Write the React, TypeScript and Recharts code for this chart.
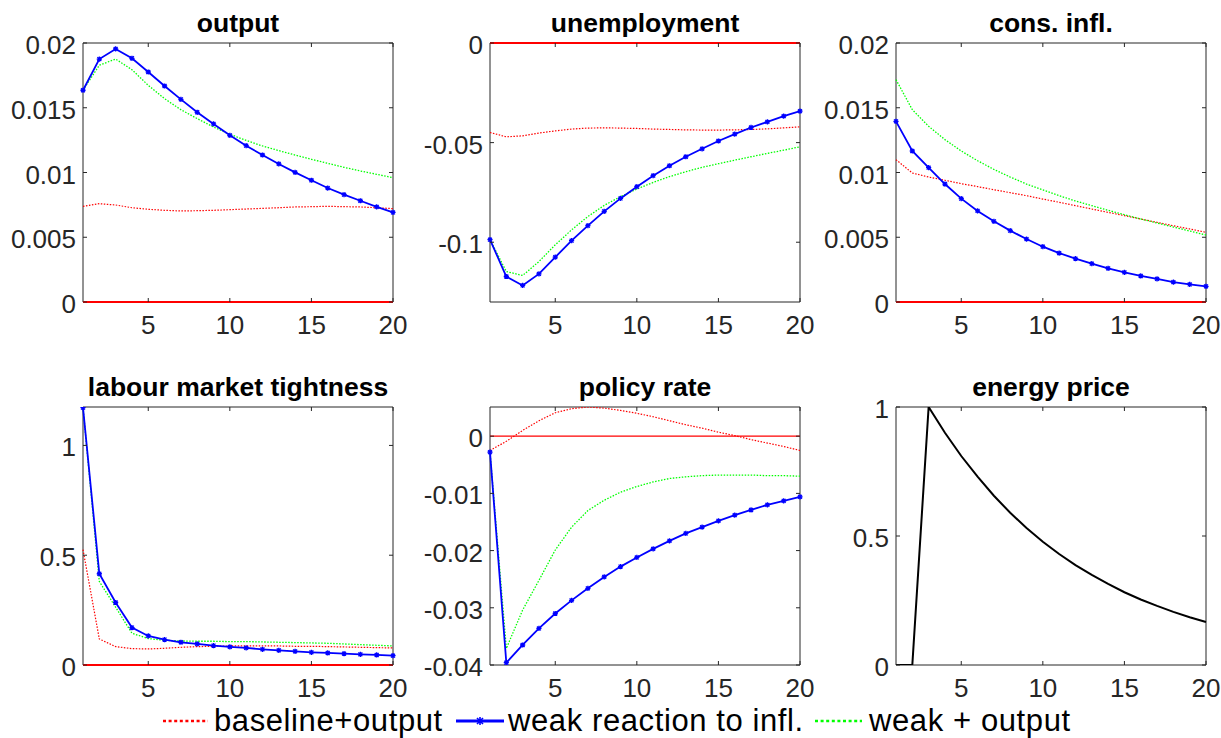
import React from "react";
import { LineChart, Line, XAxis, YAxis, ReferenceLine, ReferenceArea } from "recharts";

const periods = [1, 2, 3, 4, 5, 6, 7, 8, 9, 10, 11, 12, 13, 14, 15, 16, 17, 18, 19, 20];
const xTicks = [5, 10, 15, 20];

// output
const outputBaseline = [0.00739, 0.00759, 0.00749, 0.00728, 0.00716, 0.00708, 0.00703, 0.00705, 0.00708, 0.00713, 0.00718, 0.00723, 0.00728, 0.00734, 0.00736, 0.00739, 0.00736, 0.00734, 0.00728, 0.00721];
const outputWeak = [0.01635, 0.01876, 0.01954, 0.01882, 0.01776, 0.01668, 0.01565, 0.01465, 0.01375, 0.01287, 0.01207, 0.01135, 0.01066, 0.01001, 0.0094, 0.0088, 0.00829, 0.00782, 0.00734, 0.00692];
const outputWeakOut = [0.01635, 0.01828, 0.01876, 0.01794, 0.01673, 0.0157, 0.01485, 0.01416, 0.01351, 0.01295, 0.01248, 0.01205, 0.01169, 0.01135, 0.01102, 0.01071, 0.0104, 0.01012, 0.00986, 0.0096];

// unemployment
const unempBaseline = [-0.0449, -0.0471, -0.0466, -0.0452, -0.0441, -0.0432, -0.0427, -0.0426, -0.0427, -0.0429, -0.0432, -0.0434, -0.0436, -0.0437, -0.0437, -0.0436, -0.0434, -0.0431, -0.0426, -0.0421];
const unempWeak = [-0.0987, -0.1172, -0.1217, -0.1159, -0.1075, -0.0992, -0.0917, -0.0845, -0.078, -0.0721, -0.0666, -0.0616, -0.0571, -0.0531, -0.0492, -0.0457, -0.0424, -0.0396, -0.0367, -0.0342];
const unempWeakOut = [-0.0987, -0.1147, -0.1167, -0.1097, -0.1013, -0.0938, -0.0871, -0.0815, -0.0771, -0.0733, -0.07, -0.0671, -0.0646, -0.0624, -0.0606, -0.0588, -0.0571, -0.0554, -0.0538, -0.0521];

// cons. infl.
const inflBaseline = [0.01099, 0.00996, 0.00965, 0.0094, 0.00914, 0.00891, 0.00867, 0.00844, 0.00821, 0.00795, 0.0077, 0.00744, 0.00718, 0.00692, 0.00667, 0.00641, 0.00615, 0.00589, 0.00564, 0.00538];
const inflWeak = [0.01395, 0.01166, 0.01037, 0.00911, 0.00798, 0.00703, 0.00623, 0.00551, 0.00486, 0.00427, 0.00378, 0.00335, 0.00296, 0.0026, 0.00229, 0.00201, 0.00178, 0.00154, 0.00136, 0.00121];
const inflWeakOut = [0.01717, 0.01485, 0.01357, 0.01254, 0.01166, 0.01091, 0.01024, 0.00965, 0.00911, 0.00865, 0.00821, 0.0078, 0.00744, 0.00708, 0.00674, 0.00641, 0.0061, 0.00579, 0.00548, 0.00517];

// labour market tightness
const tightBaseline = [0.525, 0.1187, 0.0837, 0.0746, 0.0731, 0.0761, 0.0807, 0.0837, 0.0852, 0.0868, 0.0868, 0.0868, 0.0868, 0.0852, 0.0852, 0.0837, 0.0822, 0.0807, 0.0791, 0.0776];
const tightWeak = [1.172, 0.4155, 0.2846, 0.1705, 0.1324, 0.1157, 0.1035, 0.0959, 0.0883, 0.0822, 0.0776, 0.0715, 0.067, 0.0624, 0.0578, 0.0548, 0.0518, 0.0487, 0.0457, 0.0426];
const tightWeakOut = [1.172, 0.3805, 0.2633, 0.1446, 0.1202, 0.1126, 0.1096, 0.1081, 0.1081, 0.1065, 0.1065, 0.105, 0.1035, 0.102, 0.1005, 0.0989, 0.0959, 0.0928, 0.0898, 0.0868];

// policy rate
const rateBaseline = [-0.0025, -0.0009, 0.001, 0.0027, 0.0041, 0.0048, 0.0051, 0.0049, 0.0045, 0.004, 0.0034, 0.0027, 0.002, 0.0014, 0.0007, 0.0001, -0.0006, -0.0012, -0.0018, -0.0025];
const rateWeak = [-0.0028, -0.0396, -0.0365, -0.0336, -0.031, -0.0287, -0.0266, -0.0246, -0.0228, -0.0212, -0.0197, -0.0183, -0.017, -0.0159, -0.0148, -0.0138, -0.0129, -0.012, -0.0113, -0.0106];
const rateWeakOut = [-0.0028, -0.0371, -0.0304, -0.0252, -0.0199, -0.0159, -0.013, -0.0112, -0.0098, -0.0088, -0.008, -0.0074, -0.0071, -0.0069, -0.0068, -0.0068, -0.0068, -0.0069, -0.0069, -0.007];

// energy price
const energyPrice = [0, 0, 1, 0.9, 0.81, 0.73, 0.656, 0.59, 0.531, 0.478, 0.43, 0.387, 0.349, 0.314, 0.282, 0.254, 0.229, 0.206, 0.185, 0.167];

const FONT = '"Liberation Sans", Arial, Helvetica, sans-serif';
const AXIS = "#262626";
const RED = "#ff0000";
const BLUE = "#0000ff";
const GREEN = "#00ff00";

const PW = 310;
const LEFT_W = 80;
const RIGHT_PAD = 30;
const TOP_PAD = 26;

interface PanelSpec {
  title: string;
  left: number;
  top: number;
  height: number;
  domain: [number, number];
  ticks: number[];
  base?: number[];
  weak?: number[];
  weakOut?: number[];
  energy?: number[];
  zero: boolean;
  zeroWidth?: number;
}

const panels: PanelSpec[] = [
  { title: "output", left: 83, top: 43, height: 259, domain: [0, 0.02], ticks: [0, 0.005, 0.01, 0.015, 0.02], base: outputBaseline, weak: outputWeak, weakOut: outputWeakOut, zero: true, zeroWidth: 2 },
  { title: "unemployment", left: 490, top: 43, height: 259, domain: [-0.13, 0], ticks: [-0.1, -0.05, 0], base: unempBaseline, weak: unempWeak, weakOut: unempWeakOut, zero: true, zeroWidth: 2 },
  { title: "cons. infl.", left: 896, top: 43, height: 259, domain: [0, 0.02], ticks: [0, 0.005, 0.01, 0.015, 0.02], base: inflBaseline, weak: inflWeak, weakOut: inflWeakOut, zero: true, zeroWidth: 2 },
  { title: "labour market tightness", left: 83, top: 407, height: 258, domain: [0, 1.175], ticks: [0, 0.5, 1], base: tightBaseline, weak: tightWeak, weakOut: tightWeakOut, zero: true, zeroWidth: 2 },
  { title: "policy rate", left: 490, top: 407, height: 258, domain: [-0.04, 0.0051], ticks: [-0.04, -0.03, -0.02, -0.01, 0], base: rateBaseline, weak: rateWeak, weakOut: rateWeakOut, zero: true, zeroWidth: 1.2 },
  { title: "energy price", left: 896, top: 407, height: 258, domain: [0, 1], ticks: [0, 0.5, 1], energy: energyPrice, zero: false },
];

const BottomTick = (props: any) => {
  const { x, y, payload } = props;
  return (
    <g>
      <line x1={x} x2={x} y1={y} y2={y - 4} stroke={AXIS} />
      <text x={x} y={y + 32} textAnchor="middle" fontSize={26} fill={AXIS} fontFamily={FONT}>{payload.value}</text>
    </g>
  );
};

const TopTick = (props: any) => {
  const { x, y } = props;
  return <line x1={x} x2={x} y1={y} y2={y + 4} stroke={AXIS} />;
};

const LeftTick = (props: any) => {
  const { x, y, payload } = props;
  return (
    <g>
      <line x1={x} x2={x + 4} y1={y} y2={y} stroke={AXIS} />
      <text x={x - 7} y={y + 11} textAnchor="end" fontSize={26} fill={AXIS} fontFamily={FONT}>{String(payload.value)}</text>
    </g>
  );
};

const RightTick = (props: any) => {
  const { x, y } = props;
  return <line x1={x} x2={x - 4} y1={y} y2={y} stroke={AXIS} />;
};

const StarDot = (props: any) => {
  const { cx, cy, index } = props;
  if (cx == null || cy == null) return <g key={index} />;
  const r = 2.6;
  return (
    <path
      key={index}
      d={`M${cx - r},${cy}h${2 * r}M${cx},${cy - r}v${2 * r}M${cx - r * 0.75},${cy - r * 0.75}l${r * 1.5},${r * 1.5}M${cx - r * 0.75},${cy + r * 0.75}l${r * 1.5},${-r * 1.5}`}
      stroke={BLUE}
      strokeWidth={1.3}
      fill="none"
    />
  );
};

function Panel({ spec }: { spec: PanelSpec }) {
  const data = periods.map((t, i) => ({
    t,
    base: spec.base ? spec.base[i] : undefined,
    weak: spec.weak ? spec.weak[i] : undefined,
    weakOut: spec.weakOut ? spec.weakOut[i] : undefined,
    energy: spec.energy ? spec.energy[i] : undefined,
  }));
  const w = LEFT_W + PW + RIGHT_PAD;
  const h = TOP_PAD + spec.height + 40;
  return (
    <div style={{ position: "absolute", left: spec.left - LEFT_W, top: spec.top - TOP_PAD }}>
      <LineChart width={w} height={h} data={data} margin={{ top: TOP_PAD - 1, right: RIGHT_PAD - 1, bottom: 0, left: 0 }}>
        <XAxis dataKey="t" type="number" domain={[1, 20]} ticks={xTicks} interval={0} height={40}
          tickSize={0} tickMargin={0} tickLine={false} tick={<BottomTick />} axisLine={false} />
        <XAxis xAxisId="top" orientation="top" dataKey="t" type="number" domain={[1, 20]} ticks={xTicks} interval={0} height={1}
          tickSize={0} tickMargin={0} tickLine={false} tick={<TopTick />} axisLine={false} />
        <YAxis type="number" domain={spec.domain} ticks={spec.ticks} interval={0} width={LEFT_W} allowDataOverflow
          tickSize={0} tickMargin={0} tickLine={false} tick={<LeftTick />} axisLine={false} />
        <YAxis yAxisId="right" orientation="right" type="number" domain={spec.domain} ticks={spec.ticks} interval={0} width={1} allowDataOverflow
          tickSize={0} tickMargin={0} tickLine={false} tick={<RightTick />} axisLine={false} />
        <ReferenceArea x1={1} x2={20} y1={spec.domain[0]} y2={spec.domain[1]} fill="none" stroke={AXIS} strokeWidth={1} fillOpacity={0} ifOverflow="visible" />
        {spec.zero && <ReferenceLine y={0} stroke={RED} strokeWidth={spec.zeroWidth} ifOverflow="visible" />}
        {spec.base && (
          <Line type="linear" dataKey="base" stroke={RED} strokeWidth={1.2} strokeDasharray="1.5 1.5" dot={false} isAnimationActive={false} />
        )}
        {spec.weakOut && (
          <Line type="linear" dataKey="weakOut" stroke={GREEN} strokeWidth={1.3} strokeDasharray="1.5 1.5" dot={false} isAnimationActive={false} />
        )}
        {spec.weak && (
          <Line type="linear" dataKey="weak" stroke={BLUE} strokeWidth={1.8} dot={<StarDot />} isAnimationActive={false} />
        )}
        {spec.energy && (
          <Line type="linear" dataKey="energy" stroke="#000000" strokeWidth={2} dot={false} isAnimationActive={false} />
        )}
      </LineChart>
    </div>
  );
}

export default function App() {
  return (
    <div style={{ position: "absolute", left: 0, top: 0, width: 1221, height: 738, background: "#ffffff", overflow: "hidden" }}>
      {panels.map((p) => (
        <Panel key={p.title} spec={p} />
      ))}
      <svg width={1221} height={738} style={{ position: "absolute", left: 0, top: 0, pointerEvents: "none" }}>
        {panels.map((p) => (
          <text key={p.title} x={p.left + PW / 2} y={p.top - 11} textAnchor="middle" fontSize={26.5} fontWeight="bold" fontFamily={FONT} fill="#000">
            {p.title}
          </text>
        ))}
        <g fontFamily={FONT} fontSize={31} letterSpacing={0.6} fill="#000">
          <line x1={163} x2={208} y1={721} y2={721} stroke={RED} strokeWidth={2.5} strokeDasharray="3 2.6" />
          <text x={214} y={731}>baseline+output</text>
          <line x1={456} x2={504} y1={721} y2={721} stroke={BLUE} strokeWidth={3} />
          <path d="M476,721h8M480,717v8M477,718l6,6M477,724l6,-6" stroke={BLUE} strokeWidth={1.6} />
          <text x={508} y={731}>weak reaction to infl.</text>
          <line x1={815} x2={862} y1={721} y2={721} stroke={GREEN} strokeWidth={2.5} strokeDasharray="3 2.6" />
          <text x={869} y={731}>weak + output</text>
        </g>
      </svg>
    </div>
  );
}
